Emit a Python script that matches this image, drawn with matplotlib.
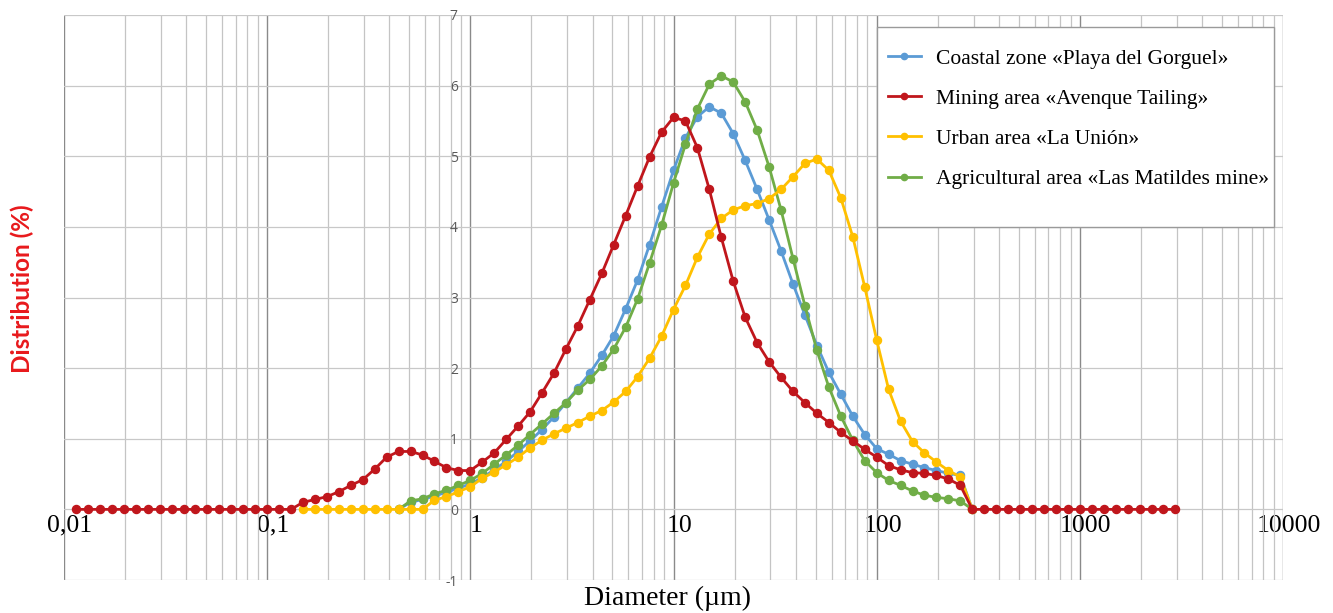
import numpy as np
import matplotlib
matplotlib.use("Agg")
import matplotlib.pyplot as plt
from matplotlib.ticker import LogLocator, FixedLocator, NullFormatter
from matplotlib.transforms import ScaledTranslation
from matplotlib.lines import Line2D
from matplotlib.patches import Rectangle

nan = float("nan")

# Particle size classes (µm)
diameter = [0.01145, 0.01311, 0.01501, 0.01719, 0.01968, 0.02254, 0.02581, 0.02955,
            0.03384, 0.03875, 0.04437, 0.05080, 0.05817, 0.06661, 0.07627, 0.08733,
            0.1, 0.1145, 0.1311, 0.1501, 0.1719, 0.1968, 0.2254, 0.2581, 0.2955,
            0.3384, 0.3875, 0.4437, 0.5080, 0.5817, 0.6661, 0.7627, 0.8733,
            1.0, 1.145, 1.311, 1.501, 1.719, 1.968, 2.254, 2.581, 2.955,
            3.384, 3.875, 4.437, 5.080, 5.817, 6.661, 7.627, 8.733,
            10.0, 11.45, 13.11, 15.01, 17.19, 19.68, 22.54, 25.81, 29.55,
            33.84, 38.75, 44.37, 50.80, 58.17, 66.61, 76.27, 87.33,
            100.0, 114.5, 131.1, 150.1, 171.9, 196.8, 225.4, 258.1, 295.5,
            338.4, 387.5, 443.7, 508.0, 581.7, 666.1, 762.7, 873.3,
            1000.0, 1145, 1311, 1501, 1719, 1968, 2254, 2581, 2955]

coastal = ([nan] * 27 +
           [0.00, 0.10, 0.14, 0.19, 0.24, 0.30, 0.36, 0.45, 0.56, 0.68, 0.82, 0.97,
            1.13, 1.31, 1.51, 1.72, 1.93, 2.18, 2.46, 2.84, 3.25, 3.75, 4.28, 4.80,
            5.26, 5.56, 5.70, 5.61, 5.32, 4.94, 4.53, 4.10, 3.66, 3.19, 2.75, 2.32,
            1.94, 1.63, 1.32, 1.06, 0.86, 0.78, 0.69, 0.64, 0.59, 0.55, 0.51, 0.48,
            0.00] +
           [nan] * 17)

mining = ([0.0] * 19 +
          [0.10, 0.14, 0.18, 0.25, 0.34, 0.42, 0.57, 0.74, 0.82, 0.82, 0.77, 0.68,
           0.59, 0.55, 0.55, 0.67, 0.80, 0.99, 1.18, 1.38, 1.65, 1.93, 2.27, 2.60,
           2.97, 3.34, 3.75, 4.16, 4.58, 4.99, 5.34, 5.55, 5.50, 5.12, 4.53, 3.85,
           3.23, 2.72, 2.36, 2.09, 1.87, 1.67, 1.51, 1.36, 1.23, 1.09, 0.97, 0.85,
           0.74, 0.62, 0.56, 0.52, 0.51, 0.48, 0.43, 0.34] +
          [0.0] * 18)

urban = ([nan] * 19 + [0.0] * 11 +
         [0.13, 0.18, 0.25, 0.32, 0.44, 0.53, 0.63, 0.74, 0.87, 0.98, 1.07, 1.15,
          1.23, 1.32, 1.40, 1.52, 1.67, 1.88, 2.14, 2.45, 2.83, 3.17, 3.57, 3.90,
          4.12, 4.24, 4.30, 4.33, 4.40, 4.53, 4.71, 4.90, 4.96, 4.80, 4.41, 3.86,
          3.15, 2.40, 1.70, 1.25, 0.96, 0.80, 0.67, 0.55, 0.46, 0.00] +
         [nan] * 17)

agricultural = ([nan] * 27 +
                [0.00, 0.12, 0.15, 0.22, 0.27, 0.34, 0.41, 0.51, 0.64, 0.77, 0.91, 1.06,
                 1.21, 1.36, 1.51, 1.69, 1.84, 2.03, 2.27, 2.58, 2.98, 3.49, 4.02, 4.62,
                 5.17, 5.67, 6.02, 6.14, 6.05, 5.77, 5.37, 4.85, 4.24, 3.55, 2.88, 2.25,
                 1.73, 1.32, 0.98, 0.69, 0.52, 0.41, 0.34, 0.26, 0.20, 0.17, 0.15, 0.12,
                 0.00] +
                [nan] * 17)

series_labels = ["Coastal zone «Playa del Gorguel»",
                 "Mining area «Avenque Tailing»",
                 "Urban area «La Unión»",
                 "Agricultural area «Las Matildes mine»"]
series_colors = ["#5B9BD5", "#C0161C", "#FFC000", "#70AD47"]

x_tick_values = [0.01, 0.1, 1, 10, 100, 1000, 10000]
x_tick_labels = ["0,01", "0,1", "1", "10", "100", "1000", "10000"]
y_tick_values = [-1, 0, 1, 2, 3, 4, 5, 6, 7]

W, H = 1333, 613
fig = plt.figure(figsize=(W / 100, H / 100), dpi=100)
ax = fig.add_axes([64 / W, 1 - 580 / H, (1283 - 64) / W, (580 - 15) / H])

ax.set_xscale("log")
ax.set_xlim(0.01, 10000)
ax.set_ylim(-1, 7)

series = [coastal, mining, urban, agricultural]
zorders = [3, 6, 5, 4]
for vals, col, lab, z in zip(series, series_colors, series_labels, zorders):
    ax.plot(diameter, np.array(vals, dtype=float), color=col, lw=2.0,
            marker="o", ms=5.8, mfc=col, mec=col, label=lab, zorder=z,
            solid_joinstyle="round", clip_on=False)

# grid
ax.xaxis.set_major_locator(FixedLocator(x_tick_values))
ax.xaxis.set_minor_locator(LogLocator(base=10, subs=range(2, 10), numticks=100))
ax.xaxis.set_minor_formatter(NullFormatter())
ax.set_xticks(x_tick_values)
ax.set_xticklabels(x_tick_labels)
ax.set_yticks(y_tick_values)
ax.set_yticklabels([str(v) for v in y_tick_values])
ax.grid(which="major", axis="x", color="#8A8A8A", lw=1.0, zorder=0)
ax.grid(which="minor", axis="x", color="#C4C4C4", lw=0.9, zorder=0)
ax.grid(which="major", axis="y", color="#C8C8C8", lw=0.9, zorder=0)
ax.set_axisbelow(True)

# axes crossing at (1, 0)
ax.spines["bottom"].set_position(("data", 0))
ax.spines["left"].set_position(("data", 1))
for s in ax.spines.values():
    s.set_color("none")
ax.tick_params(axis="both", which="both", length=0)
ax.tick_params(axis="x", pad=4)
ax.tick_params(axis="y", pad=9)

for t in ax.get_xticklabels():
    t.set_fontfamily("Liberation Serif")
    t.set_fontsize(18.5)
    t.set_color("black")
    t.set_transform(t.get_transform() + ScaledTranslation(6 / 100, 0, fig.dpi_scale_trans))
for t in ax.get_yticklabels():
    t.set_fontfamily("Open Sans")
    t.set_fontsize(10)
    t.set_color("#595959")

# axis titles
fig.text(667 / W, 1 - 598 / H, "Diameter (µm)", ha="center", va="center",
         fontsize=20, family="Liberation Serif", color="black")
fig.text(22 / W, 1 - 289 / H, "Distribution (%)", ha="center", va="center",
         rotation=90, fontsize=17.5, family="Lato", fontweight="bold", color="#E8191C")

# legend box
x0 = (877 - 64) / 1219
x1 = (1274 - 64) / 1219
ytop = 1 - (27 - 15) / 565
ybot = 1 - (227 - 15) / 565
ax.add_patch(Rectangle((x0, ybot), x1 - x0, ytop - ybot, transform=ax.transAxes,
                       facecolor="white", edgecolor="#9A9A9A", lw=1.0, zorder=10))
handles = [Line2D([], [], color=c, lw=2.0, marker="o", ms=4.5) for c in series_colors]
leg = ax.legend(handles, series_labels, loc="upper left",
                bbox_to_anchor=(x0 + 0.004, ytop - 0.027), frameon=False,
                prop={"family": "Liberation Serif", "size": 15.5},
                handlelength=1.5, handletextpad=0.7, labelspacing=0.93,
                borderpad=0.3, borderaxespad=0)
leg.set_zorder(11)

fig.savefig("out.png", dpi=100, facecolor="white")
